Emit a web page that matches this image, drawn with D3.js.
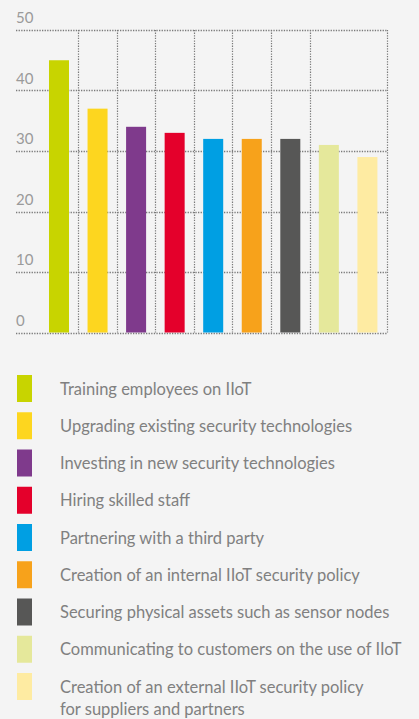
<!DOCTYPE html>
<html>
<head>
<meta charset="utf-8">
<script src="https://d3js.org/d3.v7.min.js"></script>
<style>
  html, body { margin: 0; padding: 0; background: #f4f4f4; }
  body { font-family: Lato, "Open Sans", sans-serif; }
  .tick-label { fill: #9a9a9a; font-size: 15px; }
  .legend-text { fill: #808080; font-size: 16.5px; }
</style>
</head>
<body>
<script>
// values
const categories = [
  "Training employees on IIoT",
  "Upgrading existing security technologies",
  "Investing in new security technologies",
  "Hiring skilled staff",
  "Partnering with a third party",
  "Creation of an internal IIoT security policy",
  "Securing physical assets such as sensor nodes",
  "Communicating to customers on the use of IIoT",
  "Creation of an external IIoT security policy|for suppliers and partners"
];
const values = [45, 37, 34, 33, 32, 32, 32, 31, 29];
const colors = ["#c8d400", "#fdd61f", "#7f3a8c", "#e4002b", "#009fe3", "#f7a21b", "#575756", "#e5e89b", "#feeba2"];
const yTicks = [0, 10, 20, 30, 40, 50];

const width = 419, height = 719;

const svg = d3.select("body").append("svg")
  .attr("width", width)
  .attr("height", height);

const x = d3.scaleBand()
  .domain(categories)
  .range([39.7, 386.7])
  .paddingInner(0.481)
  .paddingOuter(0.241);

const y = d3.scaleLinear()
  .domain([0, 50])
  .range([332.5, 30]);

const gridLeft = 16, gridRight = 387;

// horizontal dotted grid
svg.append("g").selectAll("line")
  .data(yTicks)
  .join("line")
  .attr("x1", gridLeft).attr("x2", gridRight)
  .attr("y1", d => Math.round(y(d)) + 0.5)
  .attr("y2", d => Math.round(y(d)) + 0.5)
  .attr("stroke", "#7a7a7a")
  .attr("stroke-width", 1.3)
  .attr("stroke-dasharray", "1.3,1.3");

// vertical dotted grid at band boundaries (none between the last two bars)
const step = x.step();
const vIdx = [1, 2, 3, 4, 5, 6, 7, 9];
svg.append("g").selectAll("line")
  .data(vIdx)
  .join("line")
  .attr("x1", i => Math.round(x.range()[0] + i * step) + 0.5)
  .attr("x2", i => Math.round(x.range()[0] + i * step) + 0.5)
  .attr("y1", y(50)).attr("y2", y(0))
  .attr("stroke", "#7a7a7a")
  .attr("stroke-width", 1.2)
  .attr("stroke-dasharray", "1.3,1.3");

// tick labels
svg.append("g").selectAll("text")
  .data(yTicks)
  .join("text")
  .attr("class", "tick-label")
  .attr("x", gridLeft)
  .attr("y", d => y(d) - 7)
  .text(d => d);

// bars
svg.append("g").selectAll("rect")
  .data(values)
  .join("rect")
  .attr("x", (d, i) => x(categories[i]))
  .attr("width", x.bandwidth())
  .attr("y", d => y(d))
  .attr("height", d => y(0) - y(d))
  .attr("fill", (d, i) => colors[i]);

// legend
const legend = svg.append("g").selectAll("g")
  .data(categories)
  .join("g")
  .attr("transform", (d, i) => `translate(17,${375 + i * 37.25})`);

legend.append("rect")
  .attr("width", 15).attr("height", 27)
  .attr("fill", (d, i) => colors[i]);

legend.append("text")
  .attr("class", "legend-text")
  .attr("x", 43)
  .attr("y", 19.5)
  .selectAll("tspan")
  .data(d => d.split("|"))
  .join("tspan")
  .attr("x", 43)
  .attr("dy", (d, i) => i === 0 ? 0 : 22.5)
  .text(d => d);
</script>
</body>
</html>
